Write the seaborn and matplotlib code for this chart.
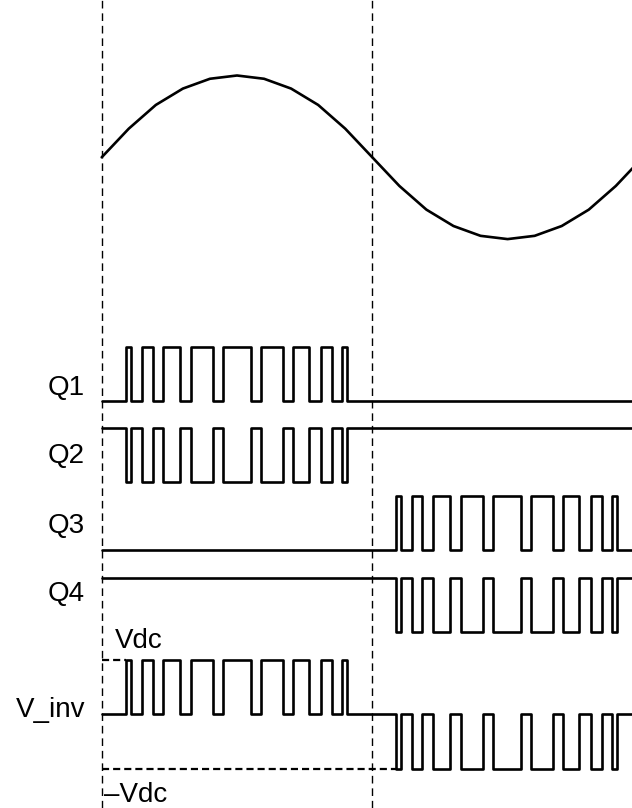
import numpy as np
import pandas as pd
import matplotlib
matplotlib.use("Agg")
import matplotlib.pyplot as plt
import seaborn as sns

sns.set_theme(style="white")
plt.rcParams['font.family'] = ['Liberation Sans', 'DejaVu Sans']

# ---------------- data ----------------
# reference sine (normalised), sampled every 1 ms over one 20 ms period
sine_t = [0, 1, 2, 3, 4, 5, 6, 7, 8, 9, 10, 11, 12, 13, 14, 15, 16, 17, 18, 19, 20]
sine_v = [0, 0.35, 0.64, 0.84, 0.96, 1.0, 0.96, 0.84, 0.64, 0.35, 0,
          -0.35, -0.64, -0.84, -0.96, -1.0, -0.96, -0.84, -0.64, -0.35, 0]

# switching instants (ms) of Q1 (positive half cycle)
q1_on = [0.89, 1.48, 2.28, 3.29, 4.49, 5.89, 7.08, 8.09, 8.89]
q1_off = [1.07, 1.89, 2.89, 4.12, 5.52, 6.69, 7.67, 8.50, 9.08]
# switching instants (ms) of Q3 (negative half cycle)
q3_on = [10.87, 11.46, 12.25, 13.27, 14.45, 15.87, 17.06, 18.07, 18.87]
q3_off = [11.05, 11.85, 12.87, 14.08, 15.50, 16.67, 17.65, 18.48, 19.06]

labels = ["Q1", "Q2", "Q3", "Q4", "V_inv"]
vdc_label = "Vdc"
neg_vdc_label = "\u2013Vdc"
boundaries = [0, 10]   # ms, dashed vertical markers
t_end = 20.5

# ---------------- helpers ----------------
def step_series(on, off):
    t = [0.0]
    v = [0]
    for a, b in zip(on, off):
        t += [a, b]
        v += [1, 0]
    t.append(t_end)
    v.append(0)
    return np.array(t), np.array(v, dtype=float)

t1, q1 = step_series(q1_on, q1_off)
t3, q3 = step_series(q3_on, q3_off)
q2 = 1 - q1
q4 = 1 - q3
# combined inverter voltage (in units of Vdc)
tv = np.array(sorted(set(t1.tolist()) | set(t3.tolist())))
def value_at(ts, vs, t):
    idx = np.searchsorted(ts, t, side="right") - 1
    return vs[idx]
vinv = np.array([value_at(t1, q1, t) - value_at(t3, q3, t) for t in tv])

# ---------------- layout (pixel-like vertical frame) ----------------
px0, px_per_ms = 101.7, 27.06
W, H = 632, 808
sine_c, sine_a = 157.3, 81.8
amp = 54.5
bases = {"Q1": 401.0, "Q2": 482.3, "Q3": 550.0, "Q4": 632.3}
vinv_zero = 714.0

fig = plt.figure(figsize=(W / 100, H / 100), dpi=100)
ax = fig.add_axes([0, 0, 1, 1])
ax.set_xlim(-px0 / px_per_ms, (W - px0) / px_per_ms)
ax.set_ylim(H, 0)
ax.axis("off")

lw = 1.9
kw = dict(color="black", linewidth=lw, estimator=None, sort=False, ax=ax, legend=False)

# sine
df_s = pd.DataFrame({"t": sine_t, "y": sine_c - sine_a * np.array(sine_v)})
sns.lineplot(data=df_s, x="t", y="y", **kw)

# gate signals
for name, (ts, vs) in {"Q1": (t1, q1), "Q2": (t1, q2), "Q3": (t3, q3), "Q4": (t3, q4)}.items():
    df = pd.DataFrame({"t": ts, "y": bases[name] - amp * vs})
    sns.lineplot(data=df, x="t", y="y", drawstyle="steps-post", **kw)

# inverter voltage
df_v = pd.DataFrame({"t": tv, "y": vinv_zero - amp * vinv})
sns.lineplot(data=df_v, x="t", y="y", drawstyle="steps-post", **kw)

# Vdc / -Vdc dashed reference lines
hd = dict(color="black", linewidth=1.6, linestyle=(0, (3.2, 1.8)))
ax.plot([0, q1_on[0]], [vinv_zero - amp, vinv_zero - amp], **hd)
ax.plot([0, q3_on[0]], [vinv_zero + amp, vinv_zero + amp], **hd)

# vertical dashed boundaries
for b in boundaries:
    ax.axvline(b, color="black", linewidth=1.0, linestyle=(0, (5.5, 3.5)))

# labels
fs = 20
lab_x = (85 - px0) / px_per_ms
lab_y = {"Q1": 395.0, "Q2": 463.5, "Q3": 532.7, "Q4": 600.7, "V_inv": 716.7}
for name in labels:
    ax.text(lab_x, lab_y[name], name, ha="right", va="baseline", fontsize=fs, color="black")
ax.text((115 - px0) / px_per_ms, 648.3, vdc_label, ha="left", va="baseline", fontsize=fs, color="black")
ax.text((103.5 - px0) / px_per_ms, 801.7, neg_vdc_label, ha="left", va="baseline", fontsize=fs, color="black")

fig.savefig("out.png", dpi=100)
